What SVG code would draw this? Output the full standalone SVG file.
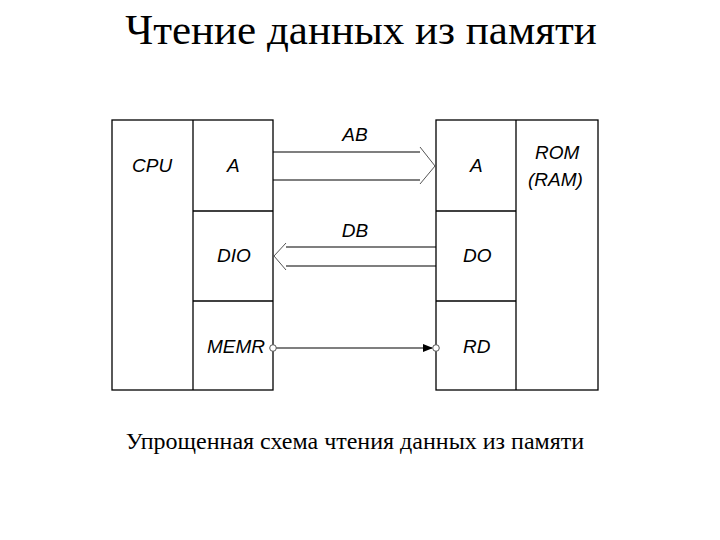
<svg xmlns="http://www.w3.org/2000/svg" width="720" height="540" viewBox="0 0 720 540">
<style>
.b{fill:none;stroke:#000;stroke-width:1.3}
.l{font-family:"Liberation Sans",Arial,sans-serif;font-style:italic;font-size:19px}
.t{font-family:"Liberation Serif","Times New Roman",serif}
</style>
<defs><marker id="ah" markerWidth="10" markerHeight="8" refX="9" refY="4" orient="auto" markerUnits="userSpaceOnUse"><path d="M0,0L10,4L0,8z"/></marker></defs>
<rect width="720" height="540" fill="#fff"/>
<text class="t" x="361" y="44" font-size="43" text-anchor="middle">Чтение данных из памяти</text>
<g id="cpu">
<rect class="b" x="112" y="120" width="161" height="270"/>
<line class="b" x1="193" y1="120" x2="193" y2="390"/>
<line class="b" x1="193" y1="211" x2="273" y2="211"/>
<line class="b" x1="193" y1="301" x2="273" y2="301"/>
<text class="l" x="132" y="172">CPU</text>
<text class="l" x="227" y="172">A</text>
<text class="l" x="217" y="262">DIO</text>
<text class="l" x="207" y="353">MEMR</text>
</g>
<g id="rom">
<rect class="b" x="436" y="120" width="162" height="270"/>
<line class="b" x1="516" y1="120" x2="516" y2="390"/>
<line class="b" x1="436" y1="211" x2="516" y2="211"/>
<line class="b" x1="436" y1="301" x2="516" y2="301"/>
<text class="l" x="470" y="172">A</text>
<text class="l" x="463" y="262">DO</text>
<text class="l" x="463" y="353">RD</text>
<text class="l" x="535" y="159">ROM</text>
<text class="l" x="528" y="186">(RAM)</text>
</g>
<g id="connectors">
<path fill="none" stroke="#000" stroke-width="1.2" d="M273,152H420M273,180H420"/>
<path fill="none" stroke="#555" stroke-width="1" d="M420,147L435,166L420,184"/>
<path fill="none" stroke="#000" stroke-width="1.2" d="M436,247H286M436,266H286"/>
<path fill="none" stroke="#555" stroke-width="1" d="M286,243L274,256L286,270"/>
<line x1="276" y1="348" x2="432" y2="348" stroke="#000" stroke-width="1.2" marker-end="url(#ah)"/>
<circle cx="273" cy="348" r="3.3" fill="#fff" stroke="#555"/>
<circle cx="436" cy="348" r="3.3" fill="#fff" stroke="#555"/>
<text class="l" x="355" y="141" text-anchor="middle">AB</text>
<text class="l" x="355" y="237" text-anchor="middle">DB</text>
</g>
<text class="t" x="355" y="449" font-size="24" text-anchor="middle">Упрощенная схема чтения данных из памяти</text>
</svg>
